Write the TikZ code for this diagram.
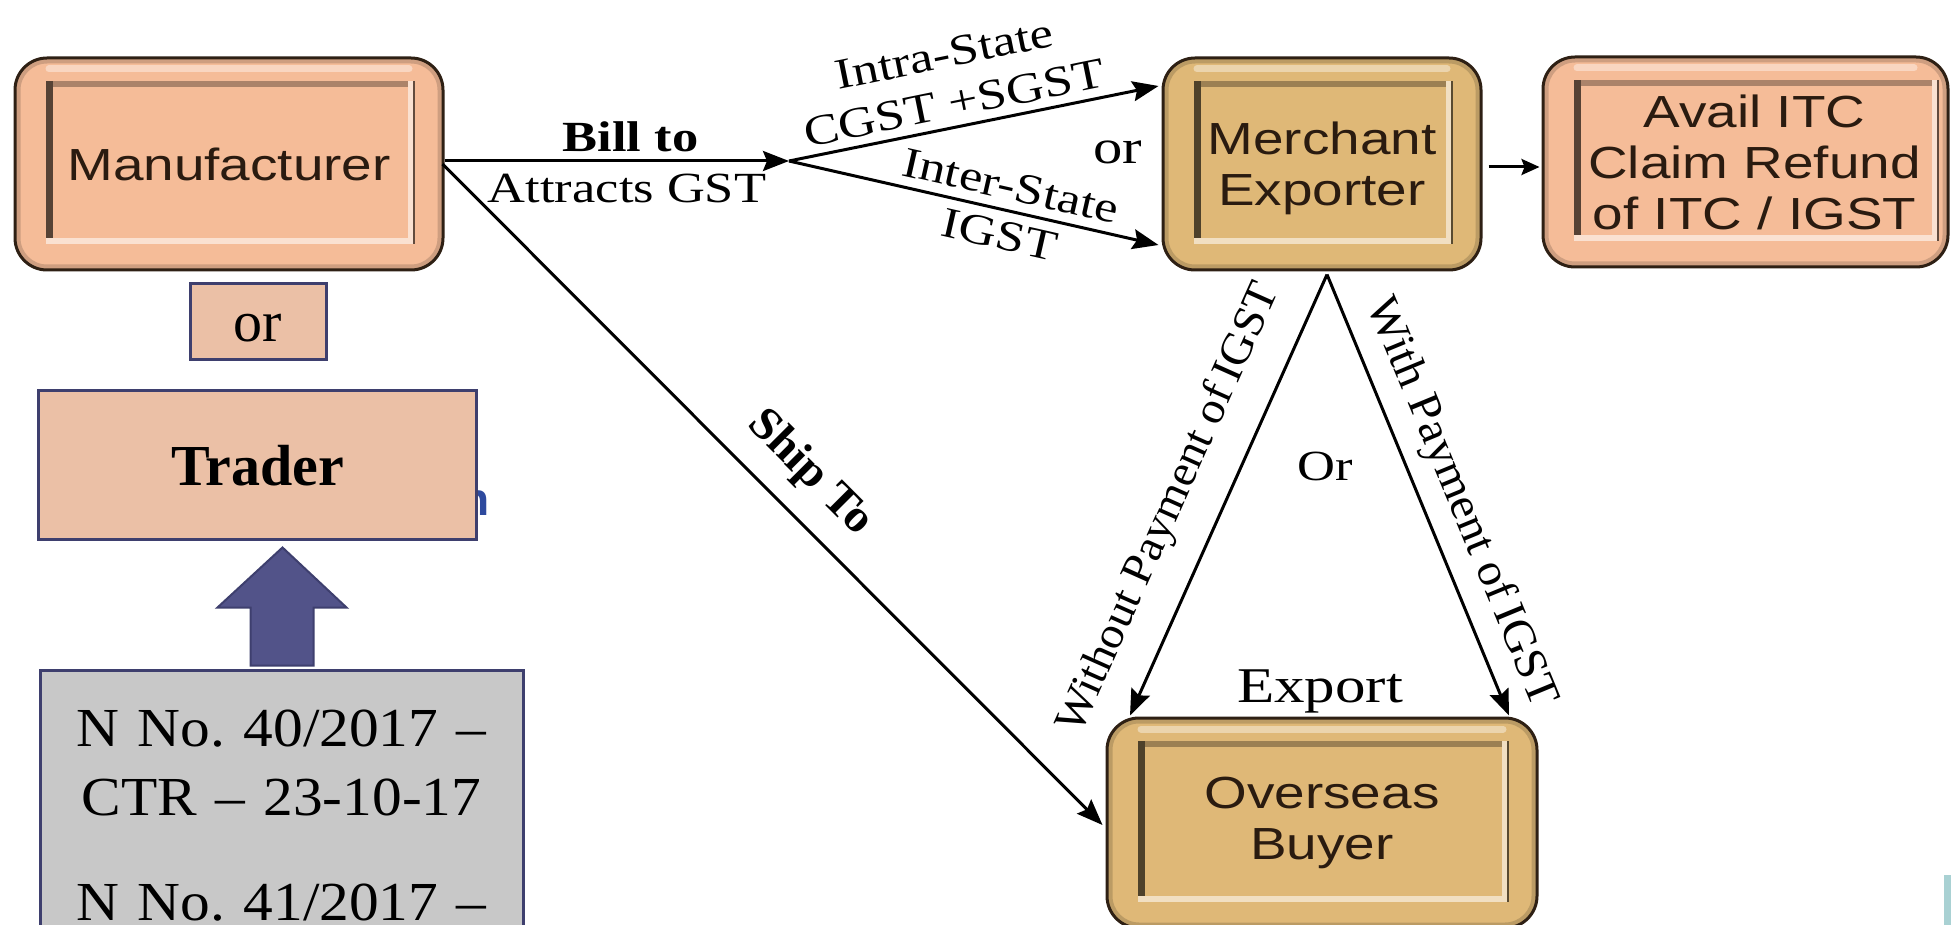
\documentclass[tikz,border=0pt]{standalone}
\usepackage{fontspec}
\usetikzlibrary{calc,arrows.meta}

% type faces
\newfontfamily\boxfam[FakeStretch=1.22]{Liberation Sans}
\newfontfamily\lblfam[FakeStretch=1.22]{Liberation Serif}
\newfontfamily\rotfam[FakeStretch=1.05]{Liberation Serif}
\newfontfamily\garfam{Liberation Serif}
\newfontfamily\notefam[FakeStretch=1.08]{Liberation Serif}
\newfontfamily\markfam{Liberation Sans}

% colours
\definecolor{peachbox}{HTML}{F5BC98}
\definecolor{tanbox}{HTML}{DFB877}
\definecolor{rim}{HTML}{2E2014}
\definecolor{boxtext}{HTML}{2A1B10}
\definecolor{panelpink}{HTML}{EBC0A6}
\definecolor{navyline}{HTML}{3E3F6E}
\definecolor{notegray}{HTML}{C8C8C8}
\definecolor{arrowblue}{HTML}{525389}
\definecolor{markblue}{HTML}{2E4A9E}
\definecolor{tealbar}{HTML}{A9D1D3}

\tikzset{
  panel right/.store in=\panelR, panel right=29pt,
  bevel/.style={rectangle, rounded corners=32pt, fill=#1, draw=rim, line width=3pt,
    inner sep=0pt, align=center, text=boxtext,
    font=\boxfam\fontsize{45}{51}\selectfont,
    path picture={
      \coordinate (pnw) at (path picture bounding box.north west);
      \coordinate (pse) at (path picture bounding box.south east);
      \coordinate (pa) at ($(pnw)+(31pt,-23pt)$);
      \coordinate (pb) at ($(pse)+(-\panelR,26pt)$);
      % darker rim just inside the outline, light sheen on the top band
      \draw[#1!65!black, opacity=.45, line width=7pt, rounded corners=30pt]
        ($(pnw)+(2pt,-2pt)$) rectangle ($(pse)+(-2pt,2pt)$);
      \draw[white, opacity=.4, line width=7pt, line cap=round]
        ($(pnw)+(34pt,-11pt)$) -- ($(pnw -| pse)+(-34pt,-11pt)$);
      % sunken inner panel
      \fill[sharp corners, #1!60!black, opacity=.75] (pa) rectangle ($(pa -| pb)+(0pt,-6pt)$);
      \fill[sharp corners, #1!35!black] (pa) rectangle ($(pa |- pb)+(7pt,0pt)$);
      \fill[sharp corners, #1!45!white] ($(pa |- pb)+(0pt,6pt)$) rectangle (pb);
      \fill[sharp corners, #1!45!white] ($(pa -| pb)+(-6pt,0pt)$) rectangle (pb);
      \draw[sharp corners, #1!40!black, line width=1.5pt] (pa -| pb) -- (pb);
    }},
  flatbox/.style={rectangle, draw=navyline, line width=3pt, inner sep=0pt, align=center},
  conn/.style={line width=3pt, -{Stealth[length=26pt,width=20pt,inset=4pt]}},
  shortconn/.style={line width=3pt, -{Stealth[length=18pt,width=16pt,inset=3pt]}},
  lbl/.style={inner sep=0pt, align=center, font=\lblfam\fontsize{43}{50}\selectfont},
  rotlbl/.style={inner sep=0pt, font=\rotfam\fontsize{45}{50}\selectfont},
}

\begin{document}
\begin{tikzpicture}[x=1pt,y=-1pt]
\useasboundingbox (0,0) rectangle (1951,925);
\clip (0,0) rectangle (1951,925);
\fill[white] (0,0) rectangle (1951,925);

% ---------- main flow boxes ----------
\node[bevel=peachbox, minimum width=428pt, minimum height=212pt] (manu) at (229,164) {Manufacturer};
\node[bevel=tanbox, minimum width=318pt, minimum height=212pt, text depth=0pt] (merch) at (1322,164) {Merchant\\Exporter};
\node[bevel=peachbox, panel right=10pt, minimum width=405pt, minimum height=210pt] (avail) at (1745.5,162)
  {\hspace*{18pt}Avail ITC\\\hspace*{18pt}Claim Refund\\\hspace*{18pt}of ITC / IGST};
\node[bevel=tanbox, minimum width=430pt, minimum height=210pt] (over) at (1322,823) {Overseas\\Buyer};

% ---------- billing route ----------
\coordinate (jn) at (789,161);
\draw[conn] (manu.east |- jn) -- (jn)
  node[lbl, pos=.54, above=8pt, font=\lblfam\bfseries\fontsize{43}{50}\selectfont] {Bill to}
  node[lbl, pos=.53, below=12pt] {Attracts GST};
\draw[conn] (jn) -- ($(merch.west)+(-3,-78)$)
  node[lbl, sloped, pos=.46, above=8pt] {Intra-State\\CGST +SGST};
\draw[conn] (jn) -- ($(merch.west)+(-3,81)$)
  node[lbl, sloped, pos=.585] {Inter-State\\IGST};
\node[lbl, font=\lblfam\fontsize{48}{50}\selectfont] (orstate) at (1118,152) {or};

% ---------- shipping route ----------
\draw[conn] ($(manu.east)+(-2,0)$) -- ($(over.west)+(-3,2)$)
  node[sloped, pos=.512, above=19pt, inner sep=0pt,
       font=\rotfam\bfseries\fontsize{46}{50}\selectfont] {Ship To};

\draw[shortconn] ($(merch.east)+(6,3)$) -- ($(avail.west)+(-2,5)$);

% ---------- export routes ----------
\coordinate (apex) at ($(merch.south)+(5,3)$);
\draw[conn] (apex) -- ($(over.north)+(-192,-1)$)
  node[rotlbl, sloped, pos=.575, above=26pt, font=\rotfam\fontsize{44.5}{50}\selectfont] {Without Payment of\,IGST};
\draw[conn] (apex) -- ($(over.north)+(187,-1)$)
  node[rotlbl, sloped, pos=.549, above=14pt, font=\rotfam\fontsize{45.5}{50}\selectfont] {With Payment of\,IGST};
\node[lbl] (orexport) at (1325,466) {Or};
\node[lbl, font=\lblfam\fontsize{50}{52}\selectfont, anchor=base] (exportlbl) at (1320,702) {Export};

% ---------- left panel ----------
\node[text=markblue, inner sep=0pt, font=\markfam\bfseries\fontsize{46}{48}\selectfont] (mark) at (476,503) {n};
\node[flatbox, fill=panelpink, minimum width=136pt, minimum height=75pt,
      text height=39pt, text depth=0pt, font=\garfam\fontsize{58}{60}\selectfont] (orbox) at (258,321.5) {or};
\node[flatbox, fill=panelpink, minimum width=438pt, minimum height=149pt,
      text height=40pt, text depth=0pt, font=\garfam\bfseries\fontsize{58}{60}\selectfont] (trader) at (257.5,465) {Trader};
\node[flatbox, fill=notegray, anchor=north west, text width=483pt, inner xsep=0pt, inner ysep=40pt,
      font=\notefam\fontsize{55}{69}\selectfont\frenchspacing] (notes) at (38.5,668.5)
  {N No. 40/2017 –\\CTR – 23-10-17\\[36pt]N No. 41/2017 –};

% block arrow from the notifications up to the trader
\draw[fill=arrowblue, draw=navyline, line width=2pt, line join=miter]
  ($(notes.north)+(-31,-3)$) -- ($(notes.north)+(-31,-61)$) -- ($(notes.north)+(-64,-61)$)
  -- ($(notes.north)+(1,-121)$) -- ($(notes.north)+(65,-61)$) -- ($(notes.north)+(32,-61)$)
  -- ($(notes.north)+(32,-3)$) -- cycle;

% edge strip
\fill[tealbar] (1944,875) rectangle (1960,930);
\end{tikzpicture}
\end{document}
